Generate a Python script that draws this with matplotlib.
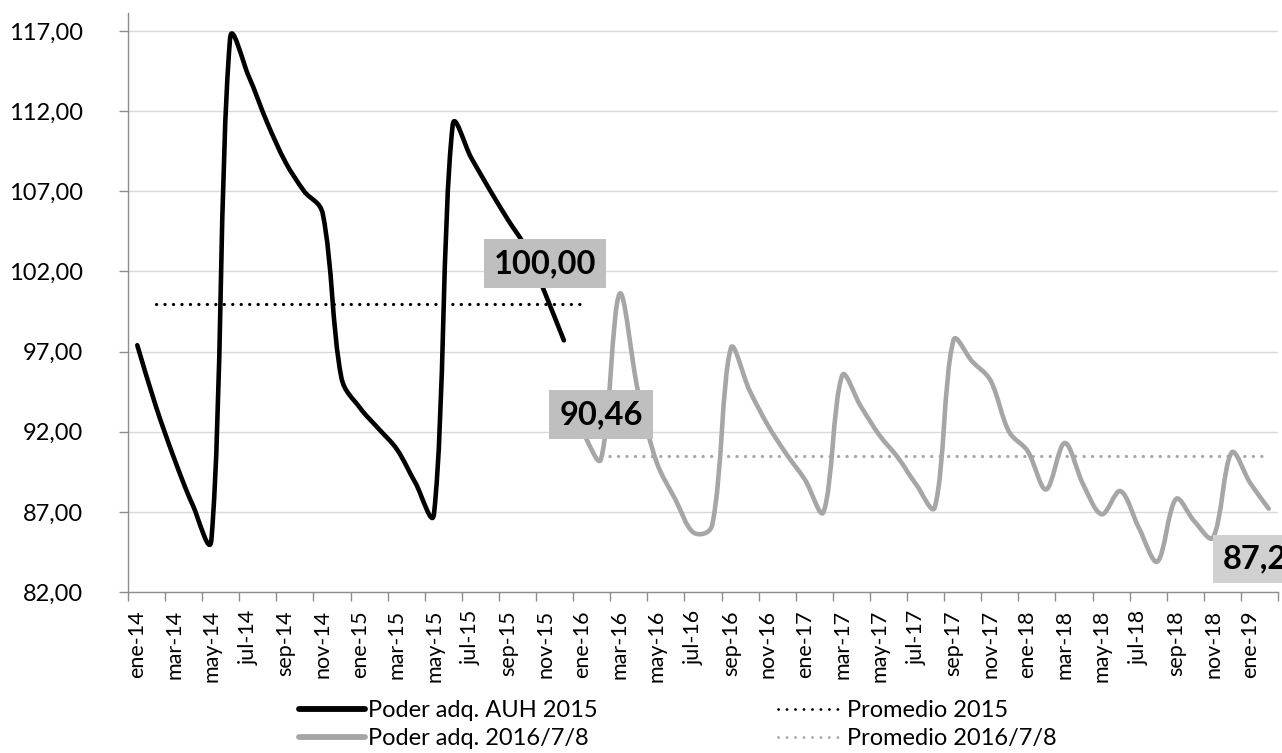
import numpy as np
import matplotlib
matplotlib.use("Agg")
import matplotlib.pyplot as plt
from matplotlib.path import Path
from matplotlib.patches import PathPatch
from matplotlib.lines import Line2D

# ---------------- data ----------------
months = ["ene", "feb", "mar", "abr", "may", "jun", "jul", "ago", "sep", "oct", "nov", "dic"]
categories = [f"{m}-{y:02d}" for y in range(14, 20) for m in months][:62]  # ene-14 .. feb-19

auh_2015 = [97.4, 93.6, 90.3, 87.4, 85.3, 116.5, 114.2, 111.3, 108.8, 107.0, 105.6, 95.4,
            93.5, 92.2, 90.9, 88.8, 86.9, 111.1, 109.1, 107.1, 105.2, 103.4, 100.6, 97.7]
auh_2015_start = 0

poder_2016_18 = [92.0, 90.3, 100.6, 94.5, 90.1, 87.8, 85.7, 86.2, 97.2, 94.6, 92.4, 90.6,
                 89.0, 87.0, 95.5, 93.6, 91.8, 90.4, 88.7, 87.3, 97.7, 96.4, 95.2, 92.0,
                 90.8, 88.4, 91.3, 88.7, 86.85, 88.3, 86.0, 83.9, 87.8, 86.4, 85.4, 90.7,
                 88.8, 87.2]
poder_2016_18_start = 24

promedio_2015 = 100.00
promedio_2015_range = (1, 24)
promedio_2016_18 = 90.46
promedio_2016_18_range = (25, 61)

yticks = [82, 87, 92, 97, 102, 107, 112, 117]

BLACK = "#000000"
GRAY = "#a6a6a6"

# pixel size of one data unit (used only to weight the smoothing like Excel does)
SX, SY = 18.55, 16.13
BLEND = 0.15  # share of plain Catmull-Rom tension


def smooth_path(xs, ys):
    """Excel-like smoothed line: cubic Bezier through every data point,
    tangent lengths weighted by neighbouring chord lengths."""
    pts = np.column_stack([xs, ys]).astype(float)
    n = len(pts)
    scale = np.array([SX, SY])

    def dist(a, b):
        return np.hypot(*((b - a) * scale))

    verts = [pts[0]]
    codes = [Path.MOVETO]
    for i in range(n - 1):
        p0 = pts[i - 1] if i > 0 else pts[i]
        p1 = pts[i]
        p2 = pts[i + 1]
        p3 = pts[i + 2] if i + 2 < n else pts[i + 1]
        d01, d12, d23 = dist(p0, p1), dist(p1, p2), dist(p2, p3)
        w1 = d12 / (d01 + d12) if (d01 + d12) > 0 else 0
        w2 = d12 / (d12 + d23) if (d12 + d23) > 0 else 0
        w1 = (1 - BLEND) * w1 + BLEND * 0.5
        w2 = (1 - BLEND) * w2 + BLEND * 0.5
        c1 = p1 + (p2 - p0) * w1 / 3.0
        c2 = p2 - (p3 - p1) * w2 / 3.0
        verts += [c1, c2, p2]
        codes += [Path.CURVE4] * 3
    return Path(verts, codes)


fig = plt.figure(figsize=(12.82, 7.53), dpi=100)
ax = fig.add_axes([128 / 1282, 1 - 592 / 753, 1150 / 1282, (592 - 13) / 753])

n = len(categories)
ax.set_xlim(-0.5, n - 0.5)
ax.set_ylim(82, 118.13)

ax.set_yticks(yticks)
ax.set_yticklabels([f"{v:.2f}".replace(".", ",") for v in yticks],
                   fontfamily="Lato", fontsize=17)
ax.yaxis.grid(True, color="#d9d9d9", linewidth=1.0)
ax.set_axisbelow(True)

# x ticks: marks at category boundaries every two months, labels at every other category
ax.set_xticks(np.arange(-0.5, n, 2))
ax.set_xticklabels([])
ax.set_xticks(np.arange(0, n, 2), minor=True)
ax.set_xticklabels([categories[i] for i in range(0, n, 2)], minor=True,
                   rotation=90, fontfamily="Lato", fontsize=15.5)
ax.tick_params(axis="x", which="major", length=6.5, color="#8c8c8c", width=1)
ax.tick_params(axis="x", which="minor", length=0, pad=13)
ax.tick_params(axis="y", length=6.5, color="#8c8c8c", width=1, pad=26)

for s in ["top", "right"]:
    ax.spines[s].set_visible(False)
for s in ["left", "bottom"]:
    ax.spines[s].set_color("#8c8c8c")
    ax.spines[s].set_linewidth(1)

# series
LW = 3.3
x1 = np.arange(auh_2015_start, auh_2015_start + len(auh_2015))
ax.add_patch(PathPatch(smooth_path(x1, auh_2015), fill=False, edgecolor=BLACK,
                       linewidth=LW, capstyle="round", joinstyle="round", zorder=3))
x2 = np.arange(poder_2016_18_start, poder_2016_18_start + len(poder_2016_18))
ax.add_patch(PathPatch(smooth_path(x2, poder_2016_18), fill=False, edgecolor=GRAY,
                       linewidth=LW, capstyle="round", joinstyle="round", zorder=3))

dot_style = dict(linestyle=(0, (0.05, 2.6)), dash_capstyle="round", linewidth=2.3)
xa = np.arange(promedio_2015_range[0], promedio_2015_range[1] + 1)
ax.plot(xa, [promedio_2015] * len(xa), color=BLACK, zorder=2, **dot_style)
xb = np.arange(promedio_2016_18_range[0], promedio_2016_18_range[1] + 1)
ax.plot(xb, [promedio_2016_18] * len(xb), color=GRAY, zorder=2, **dot_style)


def fmt(v):
    return f"{v:.2f}".replace(".", ",")


lab_kw = dict(fontfamily="Lato", fontweight="bold", fontsize=23.5, ha="center", va="center",
              zorder=5)
ax.text(22.0, 102.51, fmt(promedio_2015),
        bbox=dict(boxstyle="square,pad=0.3", fc="#bfbfbf", ec="none"), **lab_kw)
ax.text(25.0, 93.06, fmt(promedio_2016_18),
        bbox=dict(boxstyle="square,pad=0.3", fc="#bfbfbf", ec="none"), **lab_kw)
ax.text(60.75, 84.07, fmt(poder_2016_18[-1]), clip_on=False,
        bbox=dict(boxstyle="square,pad=0.3", fc="#d0d0d0", ec="none"), **lab_kw)

# legend
handles = [
    Line2D([], [], color=BLACK, linewidth=4.2, solid_capstyle="round"),
    Line2D([], [], color=GRAY, linewidth=4.2, solid_capstyle="round"),
    Line2D([], [], color=BLACK, linestyle=(0, (0.05, 3.0)), dash_capstyle="round", linewidth=2.0),
    Line2D([], [], color=GRAY, linestyle=(0, (0.05, 3.0)), dash_capstyle="round", linewidth=2.0),
]
labels = ["Poder adq. AUH 2015", "Poder adq. 2016/7/8", "Promedio 2015", "Promedio 2016/7/8"]
leg = fig.legend(handles, labels, ncol=2, loc="upper left",
                 bbox_to_anchor=(287 / 1282, 1 - 688 / 753), frameon=False,
                 prop=dict(family="Lato", size=17), handlelength=2.8,
                 handletextpad=0.15, columnspacing=7.6, labelspacing=0.3, borderpad=0)

fig.savefig("out.png", dpi=100)
